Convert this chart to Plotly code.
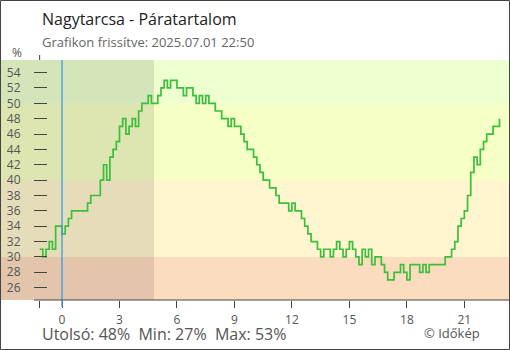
import plotly.graph_objects as go

W, H = 510, 350

# Relative humidity (%), 10-minute readings from 21:50 the previous evening to 22:50
start_hour = -7 / 6
step_hours = 1 / 6
humidity = [
    31, 30, 31, 32, 31, 34, 34, 33, 34, 35,
    36, 36, 36, 36, 36, 37, 38, 38, 38, 40,
    42, 40, 43, 44, 45, 47, 48, 46, 47, 48,
    47, 49, 50, 50, 51, 50, 50, 51, 52, 53,
    52, 53, 53, 52, 52, 51, 52, 52, 51, 50,
    51, 50, 51, 50, 50, 49, 49, 48, 48, 47,
    48, 47, 47, 46, 45, 44, 44, 43, 42, 41,
    40, 40, 39, 39, 38, 37, 37, 37, 36, 37,
    36, 36, 35, 34, 33, 32, 32, 31, 30, 31,
    31, 30, 31, 32, 31, 30, 31, 32, 31, 30,
    29, 31, 30, 31, 29, 30, 30, 29, 28, 27,
    27, 28, 28, 29, 28, 27, 29, 29, 29, 28,
    29, 28, 29, 29, 29, 29, 29, 30, 30, 31,
    32, 34, 35, 36, 38, 41, 43, 42, 44, 45,
    46, 46, 47, 47, 48,
]
hours = [start_hour + i * step_hours for i in range(len(humidity))]

x_ticks = [0, 3, 6, 9, 12, 15, 18, 21]
x_tick_labels = ["0", "3", "6", "9", "12", "15", "18", "21"]
y_ticks = list(range(26, 55, 2))

# Humidity bands drawn behind the curve
band_edges = [30, 40, 50]
band_colors = ["#fcdcbe", "#fff6d0", "#f6ffc6", "#eeffd0"]
night_shade = "rgba(0,0,0,0.1)"
sunrise_hour = 4.8

x_range = [-3.184, 23.33]
y_range = [24.39, 55.64]

title = "Nagytarcsa - Páratartalom"
subtitle = "Grafikon frissítve: 2025.07.01 22:50"
credit = "© Időkép"

FONT = "Open Sans"


def px_x(p):
    return p / W


def px_y(p):
    return 1 - p / H


fig = go.Figure()
fig.add_trace(go.Scatter(
    x=hours, y=humidity, mode="lines",
    line=dict(color="#3cbf3c", width=1.7, shape="hv"),
    hoverinfo="skip",
))

shapes = []
# short y-axis stub peeking above the bands
shapes.append(dict(type="line", xref="x", yref="paper",
                   x0=start_hour, x1=start_hour, y0=px_y(300), y1=px_y(55),
                   line=dict(color="#444", width=1), layer="below"))
lows = [y_range[0]] + band_edges
highs = band_edges + [y_range[1]]
for lo, hi, col in zip(lows, highs, band_colors):
    shapes.append(dict(type="rect", xref="x domain", yref="y",
                       x0=0, x1=1, y0=lo, y1=hi,
                       fillcolor=col, line=dict(width=0), layer="below"))
shapes.append(dict(type="rect", xref="x", yref="y domain",
                   x0=x_range[0], x1=sunrise_hour, y0=0, y1=1,
                   fillcolor=night_shade, line=dict(width=0), layer="below"))
# current-day marker at midnight
shapes.append(dict(type="line", xref="x", yref="paper",
                   x0=0, x1=0, y0=px_y(307), y1=px_y(60),
                   line=dict(color="#3b9be0", width=1.3), layer="above"))
# x axis baseline
shapes.append(dict(type="line", xref="paper", yref="paper",
                   x0=px_x(34), x1=px_x(509), y0=px_y(300), y1=px_y(300),
                   line=dict(color="#444", width=1), layer="above"))
# frame
shapes.append(dict(type="rect", xref="paper", yref="paper",
                   x0=px_x(0.5), x1=px_x(509.5), y0=px_y(349.5), y1=px_y(0.5),
                   line=dict(color="#444", width=1), layer="above"))

stats = "Utolsó: {}%\u00a0\u00a0Min: {}%\u00a0\u00a0Max: {}%".format(
    humidity[-1], min(humidity), max(humidity))

annotations = [
    dict(text=title, x=px_x(40), y=px_y(19), xanchor="left", yanchor="middle",
         font=dict(family=FONT, size=16, color="#222")),
    dict(text=subtitle, x=px_x(40), y=px_y(42), xanchor="left", yanchor="middle",
         font=dict(family=FONT, size=13, color="#666")),
    dict(text="%", x=px_x(17), y=px_y(52), xanchor="center", yanchor="middle",
         font=dict(family=FONT, size=12, color="#555")),
    dict(text=stats, x=px_x(40), y=px_y(334), xanchor="left", yanchor="middle",
         font=dict(family=FONT, size=16, color="#555")),
    dict(text=credit, x=px_x(482), y=px_y(333), xanchor="right", yanchor="middle",
         font=dict(family=FONT, size=13, color="#555")),
]
for a in annotations:
    a.update(xref="paper", yref="paper", showarrow=False)

tick_font = dict(family=FONT, size=12, color="#555")

fig.update_layout(
    width=W, height=H,
    margin=dict(l=0, r=0, t=0, b=0),
    paper_bgcolor="white",
    plot_bgcolor="rgba(0,0,0,0)",
    showlegend=False,
    shapes=shapes,
    annotations=annotations,
    xaxis=dict(
        domain=[px_x(1), px_x(509)], range=x_range, anchor="y",
        tickmode="array", tickvals=[start_hour] + x_ticks,
        ticktext=[""] + x_tick_labels,
        ticks="outside", ticklen=7, tickwidth=1, tickcolor="#444",
        ticklabelstandoff=2,
        showgrid=False, zeroline=False, showline=False,
        tickfont=tick_font, fixedrange=True,
    ),
    xaxis2=dict(
        overlaying="x", matches="x", anchor="y", side="bottom",
        tickmode="array", tickvals=x_ticks,
        ticks="inside", ticklen=6, tickwidth=1, tickcolor="#444",
        showticklabels=False, showgrid=False, zeroline=False, showline=False,
    ),
    yaxis=dict(
        domain=[px_y(300), px_y(60)], range=y_range,
        anchor="free", position=px_x(47),
        tickmode="array", tickvals=y_ticks,
        ticks="outside", ticklen=13, tickwidth=1, tickcolor="#444",
        ticklabelstandoff=11,
        showgrid=False, zeroline=False, showline=False,
        tickfont=tick_font, fixedrange=True,
    ),
)

fig.write_html("out.html")
